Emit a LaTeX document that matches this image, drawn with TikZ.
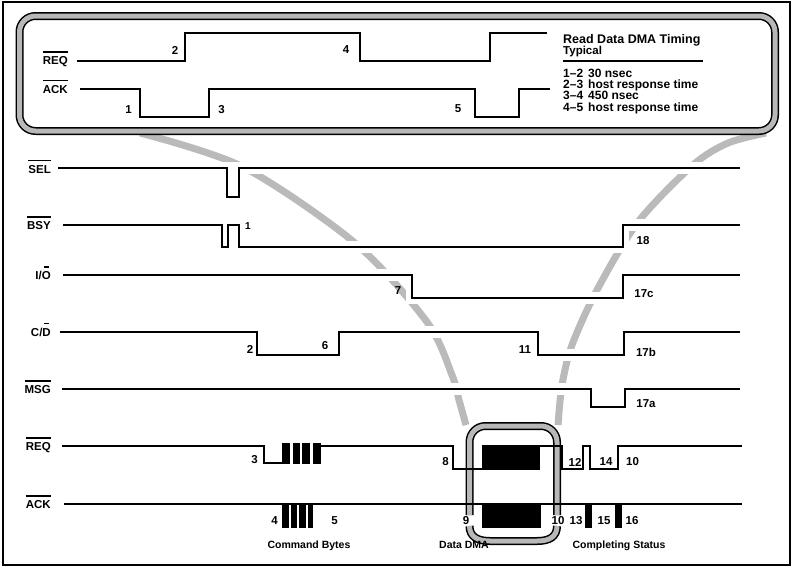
\documentclass[tikz,border=0pt]{standalone}
\usepackage{fontspec}
\setmainfont{Liberation Sans}
\newcommand\ovbar[1]{\setbox0\hbox{#1}\rlap{\rule[12pt]{\wd0}{1.1pt}}\box0}
\newcommand\shbar[1]{\setbox0\hbox{#1}\rlap{\hbox to\wd0{\hss\rule[12pt]{4.5pt}{1.1pt}\hss}}\box0}
\tikzset{
  sig/.style={line width=1.4pt, line join=miter},
  halo/.style={white, line width=12pt},
  funnel/.style={black!27, line width=7pt},
  band/.style={draw=black, line width=1.5pt, double=black!28, double distance=5pt},
  lab/.style={font=\fontsize{11.5}{13}\selectfont\bfseries, anchor=base east, inner sep=0pt},
  num/.style={font=\fontsize{11.5}{13}\selectfont\bfseries, inner sep=0pt},
  tab/.style={font=\fontsize{12}{13}\selectfont\bfseries, anchor=base west, inner sep=0pt},
  captxt/.style={font=\fontsize{10.5}{12}\selectfont\bfseries, anchor=base, inner sep=0pt}
}
\def\sigSEL{(58,168) -- (227,168) -- (227,197) -- (239,197) -- (239,168) -- (740,168)}
\def\sigBSY{(63,225) -- (222,225) -- (222,247) -- (228,247) -- (228,225) -- (239,225) -- (239,247) -- (623,247) -- (623,225) -- (740,225)}
\def\sigIO{(63,275) -- (412,275) -- (412,298) -- (623,298) -- (623,275) -- (740,275)}
\def\sigCD{(60,332) -- (257,332) -- (257,355) -- (339,355) -- (339,332) -- (538,332) -- (538,355) -- (624,355) -- (624,332) -- (740,332)}
\def\sigMSG{(62,389) -- (591,389) -- (591,407) -- (625,407) -- (625,389) -- (740,389)}
\def\sigREQa{(62,446) -- (264,446) -- (264,463) -- (283,463)}
\def\sigREQb{(321,446) -- (453,446) -- (453,469) -- (483,469)}
\def\sigREQc{(540,446) -- (562,446) -- (562,469) -- (583,469) -- (583,446) -- (590,446) -- (590,469) -- (618,469) -- (618,446) -- (742,446)}
\def\sigACK{(64,504) -- (742,504)}
\begin{document}
\begin{tikzpicture}[x=1pt,y=-1pt]
\useasboundingbox (0,0) rectangle (795,568);
% frame
\draw[line width=1.2pt] (3,2) rectangle (790,565);
% funnels
\draw[funnel] plot[smooth] coordinates {(140,133) (243,167) (355,243) (427,322) (452,375) (459,400) (466,425)};
\draw[funnel] plot[smooth] coordinates {(766,133) (728,143) (693,165) (638,222) (597,290) (572,345) (562,385) (558,425)};
% halos
\foreach \p in {\sigSEL,\sigBSY,\sigIO,\sigCD,\sigMSG,\sigREQa,\sigREQb,\sigREQc,\sigACK}{\draw[halo] \p;}
% top box band
\draw[band, rounded corners=16pt] (19.5,16) rectangle (775,131);
% DMA band
\draw[band, rounded corners=16pt] (469.5,515) -- (469.5,426) -- (557,426) -- (557,515);
\draw[band] (469.5,526) .. controls (469.5,537) and (478,541) .. (490,541) -- (537,541) .. controls (549,541) and (557,537) .. (557,526);
% top box signals
\draw[sig] (77,61) -- (185,61) -- (185,33) -- (360,33) -- (360,61) -- (490,61) -- (490,33) -- (547,33);
\draw[sig] (80,89) -- (140,89) -- (140,117) -- (209,117) -- (209,89) -- (475,89) -- (475,117) -- (519,117) -- (519,89) -- (550,89);
% main signals
\draw[sig] \sigSEL;
\draw[sig] \sigBSY;
\draw[sig] \sigIO;
\draw[sig] \sigCD;
\draw[sig] \sigMSG;
\draw[sig] \sigREQa;
\draw[sig] \sigREQb;
\draw[sig] \sigREQc;
\draw[sig] \sigACK;
% command bytes bars
\fill (282,443) rectangle (290,464);
\fill (292.5,443) rectangle (299.5,464);
\fill (302,443) rectangle (310,464);
\fill (312.5,443) rectangle (321,464);
\fill (282,503) rectangle (288.5,528);
\fill (290.5,503) rectangle (297,528);
\fill (299,503) rectangle (305.5,528);
\fill (307.5,503) rectangle (313,528);
% DMA blocks
\fill (482,445) rectangle (540,470);
\fill (482,503) rectangle (541,528);
% status pulses
\fill (585,504) rectangle (592,528);
\fill (615,504) rectangle (622,528);
% top box labels
\node[lab] (tREQ) at (68,64.5) {\ovbar{REQ}};
\node[lab] (tACK) at (68,93) {\ovbar{ACK}};
\node[num] (t2) at (175,50) {2};
\node[num] (t4) at (346,50) {4};
\node[num] (t1) at (128.5,110) {1};
\node[num] (t3) at (221.5,110) {3};
\node[num] (t5) at (458,108.5) {5};
\node[anchor=base west, inner sep=0pt, font=\fontsize{12.5}{14}\selectfont\bfseries] (title) at (563,43) {Read Data DMA Timing};
\node[anchor=base west, inner sep=0pt, font=\fontsize{11.5}{13}\selectfont\bfseries] (typ) at (563,54.5) {Typical};
\draw[line width=1.1pt] (563,61) -- (703,61);
\node[tab] (r1a) at (563,77) {1–2};
\node[tab] (r1b) at (588,77) {30 nsec};
\node[tab] (r2a) at (563,88) {2–3};
\node[tab] (r2b) at (588,88) {host response time};
\node[tab] (r3a) at (563,99.5) {3–4};
\node[tab] (r3b) at (588,99.5) {450 nsec};
\node[tab] (r4a) at (563,111) {4–5};
\node[tab] (r4b) at (588,111) {host response time};
% main labels
\node[lab] (lSEL) at (51,173) {\ovbar{SEL}};
\node[lab] (lBSY) at (51,229.5) {\ovbar{BSY}};
\node[lab] (lIO) at (51,279.5) {I/\shbar{O}};
\node[lab] (lCD) at (51,336) {C/\shbar{D}};
\node[lab] (lMSG) at (51,393.5) {\ovbar{MSG}};
\node[lab] (lREQ) at (51,450.5) {\ovbar{REQ}};
\node[lab] (lACK) at (51,508.5) {\ovbar{ACK}};
% numbers
\node[num, font=\fontsize{10}{12}\selectfont\bfseries] (n1) at (248,226) {1};
\node[num] (n18) at (643,241) {18};
\node[num] (n7) at (398,291) {7};
\node[num] (n17c) at (644,294) {17c};
\node[num] (n2) at (250,349) {2};
\node[num] (n6) at (325,345.5) {6};
\node[num] (n11) at (525,350) {11};
\node[num] (n17b) at (646,352) {17b};
\node[num] (n17a) at (646,404) {17a};
\node[num] (n3) at (254.5,460) {3};
\node[num] (n8) at (445.5,462) {8};
\node[num] (n12) at (575,462) {12};
\node[num] (n14) at (606,462) {14};
\node[num] (n10a) at (632.5,462) {10};
\node[num] (n4) at (274.5,521) {4};
\node[num] (n5) at (334.5,521) {5};
\node[num] (n9) at (466,521) {9};
\node[num] (n10b) at (558,521) {10};
\node[num] (n13) at (576,521) {13};
\node[num] (n15) at (604,521) {15};
\node[num] (n16) at (632,521) {16};
% captions
\node[captxt] (cCmd) at (309,548) {Command Bytes};
\node[captxt] (cDMA) at (464,548) {Data DMA};
\node[captxt] (cStat) at (619,548) {Completing Status};
\end{tikzpicture}
\end{document}
